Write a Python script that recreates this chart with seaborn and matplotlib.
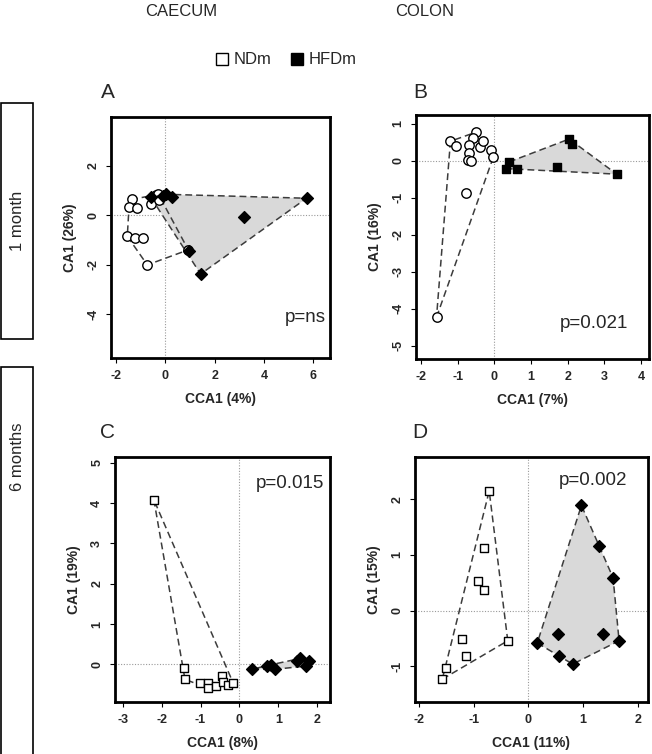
import numpy as np
import pandas as pd
import matplotlib
matplotlib.use("Agg")
import matplotlib.pyplot as plt
import seaborn as sns
from matplotlib.patches import Rectangle
from matplotlib.lines import Line2D

sns.set_style("white")
plt.rcParams["font.family"] = ["Liberation Sans", "DejaVu Sans"]
plt.rcParams["axes.unicode_minus"] = False

# ---------------- data ----------------
col_titles = ["CAECUM", "COLON"]
row_titles = ["1 month", "6 months"]
groups = ["NDm", "HFDm"]

a_nd_x = [-1.36, -1.47, -1.16, -1.54, -1.23, -0.89, -0.73, -0.59, -0.36, -0.28, -0.24, 0.93]
a_nd_y = [0.64, 0.35, 0.28, -0.85, -0.90, -0.93, -2.01, 0.46, 0.82, 0.85, 0.62, -1.40]
a_hf_x = [-0.59, -0.11, 0.03, 0.26, 5.72, 3.20, 0.96, 1.43]
a_hf_y = [0.73, 0.78, 0.85, 0.73, 0.69, -0.06, -1.43, -2.38]

b_nd_x = [-1.20, -1.05, -0.49, -0.58, -0.69, -0.69, -0.72, -0.65, -0.40, -0.31, -0.08, -0.03, -0.78, -1.58]
b_nd_y = [0.53, 0.41, 0.78, 0.63, 0.42, 0.22, 0.02, -0.01, 0.38, 0.55, 0.29, 0.10, -0.87, -4.23]
b_hf_x = [0.40, 0.31, 0.61, 1.70, 2.04, 2.13, 3.34]
b_hf_y = [-0.03, -0.21, -0.21, -0.18, 0.59, 0.45, -0.36]

c_nd_x = [-2.20, -1.42, -1.40, -1.02, -0.80, -0.82, -0.59, -0.44, -0.42, -0.29, -0.16]
c_nd_y = [4.08, -0.10, -0.37, -0.47, -0.47, -0.58, -0.54, -0.29, -0.43, -0.51, -0.46]
c_hf_x = [0.33, 0.70, 0.80, 0.91, 1.47, 1.57, 1.71, 1.80]
c_hf_y = [-0.12, -0.03, -0.02, -0.12, 0.09, 0.15, -0.04, 0.09]

d_nd_x = [-0.72, -0.82, -0.93, -0.82, -1.21, -0.38, -1.15, -1.51, -1.58]
d_nd_y = [2.15, 1.13, 0.54, 0.37, -0.51, -0.54, -0.81, -1.03, -1.23]
d_hf_x = [0.97, 1.29, 1.55, 0.16, 0.54, 1.37, 1.66, 0.56, 0.81]
d_hf_y = [1.89, 1.17, 0.59, -0.58, -0.42, -0.41, -0.54, -0.81, -0.96]

p_texts = ["p=ns", "p=0.021", "p=0.015", "p=0.002"]
x_labels = ["CCA1 (4%)", "CCA1 (7%)", "CCA1 (8%)", "CCA1 (11%)"]
y_labels = ["CA1 (26%)", "CA1 (16%)", "CA1 (19%)", "CA1 (15%)"]
panel_letters = ["A", "B", "C", "D"]
x_ticks = [[-2, 0, 2, 4, 6], [-2, -1, 0, 1, 2, 3, 4], [-3, -2, -1, 0, 1, 2], [-2, -1, 0, 1, 2]]
y_ticks = [[-4, -2, 0, 2], [-5, -4, -3, -2, -1, 0, 1], [0, 1, 2, 3, 4, 5], [-1, 0, 1, 2]]

# ---------------- layout ----------------
W, H = 652, 754


def rect(l, t, r, b):
    return [l / W, 1 - b / H, (r - l) / W, (b - t) / H]


panels = [
    dict(nd=(a_nd_x, a_nd_y), hf=(a_hf_x, a_hf_y), mk=("o", "D"),
         rect=rect(111, 117, 330, 358), xlim=(-2.20, 6.67), ylim=(-5.78, 3.98),
         ptxt=(5.66, -4.16), letter=(108, 93)),
    dict(nd=(b_nd_x, b_nd_y), hf=(b_hf_x, b_hf_y), mk=("o", "s"),
         rect=rect(416, 115, 649, 359), xlim=(-2.14, 4.22), ylim=(-5.36, 1.24),
         ptxt=(2.72, -4.39), letter=(420, 92)),
    dict(nd=(c_nd_x, c_nd_y), hf=(c_hf_x, c_hf_y), mk=("s", "D"),
         rect=rect(115, 457, 330, 702), xlim=(-3.20, 2.33), ylim=(-0.93, 5.14),
         ptxt=(1.30, 4.49), letter=(108, 433)),
    dict(nd=(d_nd_x, d_nd_y), hf=(d_hf_x, d_hf_y), mk=("s", "D"),
         rect=rect(415, 457, 648, 702), xlim=(-2.08, 2.19), ylim=(-1.64, 2.76),
         ptxt=(1.18, 2.34), letter=(420, 433)),
]

msize = {"o": 46, "s": 34, "D": 36}


def convex_hull(xs, ys):
    pts = sorted(set(zip(xs, ys)))
    if len(pts) < 3:
        return pts

    def cross(o, a, b):
        return (a[0] - o[0]) * (b[1] - o[1]) - (a[1] - o[1]) * (b[0] - o[0])

    lower, upper = [], []
    for p in pts:
        while len(lower) >= 2 and cross(lower[-2], lower[-1], p) <= 0:
            lower.pop()
        lower.append(p)
    for p in reversed(pts):
        while len(upper) >= 2 and cross(upper[-2], upper[-1], p) <= 0:
            upper.pop()
        upper.append(p)
    return lower[:-1] + upper[:-1]


fig = plt.figure(figsize=(W / 100, H / 100), dpi=100)

for i, P in enumerate(panels):
    ax = fig.add_axes(P["rect"])
    ax.axhline(0, color="#9a9a9a", ls=(0, (1, 1.5)), lw=0.8, zorder=0)
    ax.axvline(0, color="#9a9a9a", ls=(0, (1, 1.5)), lw=0.8, zorder=0)

    for key, fill in [("nd", None), ("hf", "#d9d9d9")]:
        xs, ys = P[key]
        hp = convex_hull(xs, ys)
        hx = [p[0] for p in hp] + [hp[0][0]]
        hy = [p[1] for p in hp] + [hp[0][1]]
        if fill:
            ax.fill(hx, hy, facecolor=fill, edgecolor="none", zorder=1)
        ax.plot(hx, hy, ls=(0, (4.5, 2.6)), color="#3c3c3c", lw=1.1, zorder=2)

    for gi, (key, face) in enumerate([("nd", "white"), ("hf", "black")]):
        xs, ys = P[key]
        df = pd.DataFrame({"x": xs, "y": ys})
        m = P["mk"][gi]
        sns.scatterplot(data=df, x="x", y="y", ax=ax, marker=m, s=msize[m],
                        color=face, edgecolor="black", linewidth=1.0,
                        zorder=3 + gi, legend=False)

    ax.set_xlim(*P["xlim"])
    ax.set_ylim(*P["ylim"])
    ax.set_xticks(x_ticks[i])
    ax.set_yticks(y_ticks[i])
    ax.set_xticklabels([str(t) for t in x_ticks[i]], fontweight="bold", fontsize=9)
    ax.set_yticklabels([str(t) for t in y_ticks[i]], fontweight="bold", fontsize=9,
                       rotation=90, va="center")
    ax.tick_params(axis="both", direction="out", length=3.5, width=0.8,
                   color="black", pad=5, bottom=True, left=True)
    ax.set_xlabel(x_labels[i], fontweight="bold", fontsize=10, labelpad=7)
    ax.set_ylabel(y_labels[i], fontweight="bold", fontsize=10, labelpad=7)
    for sp in ax.spines.values():
        sp.set_visible(True)
        sp.set_color("black")
        sp.set_linewidth(2.0)
    ax.text(P["ptxt"][0], P["ptxt"][1], p_texts[i], fontsize=13.5,
            ha="center", va="center", zorder=6)
    lx, ly = P["letter"]
    fig.text(lx / W, 1 - ly / H, panel_letters[i], fontsize=15, ha="center", va="center")

# column titles
fig.text(181 / W, 1 - 11 / H, col_titles[0], fontsize=12, ha="center", va="center")
fig.text(425 / W, 1 - 11 / H, col_titles[1], fontsize=12, ha="center", va="center")

# legend
handles = [Line2D([], [], marker="s", ls="none", markersize=8, markerfacecolor="white",
                  markeredgecolor="black", markeredgewidth=1.0),
           Line2D([], [], marker="s", ls="none", markersize=8, markerfacecolor="black",
                  markeredgecolor="black")]
fig.legend(handles, groups, loc="center", bbox_to_anchor=(285 / W, 1 - 60 / H), ncol=2,
           frameon=False, fontsize=12, handletextpad=0.2, columnspacing=1.0,
           handlelength=1.0)

# row label boxes
for (t, b, tx, ty), lab in zip([(103, 339, 17, 221), (367, 790, 18, 457)], row_titles):
    fig.patches.append(Rectangle((1 / W, 1 - b / H), 32 / W, (b - t) / H,
                                 transform=fig.transFigure, facecolor="white",
                                 edgecolor="black", lw=1.2, clip_on=False))
    fig.text(tx / W, 1 - ty / H, lab, fontsize=12, rotation=90, ha="center", va="center")

fig.savefig("out.png", dpi=100)
